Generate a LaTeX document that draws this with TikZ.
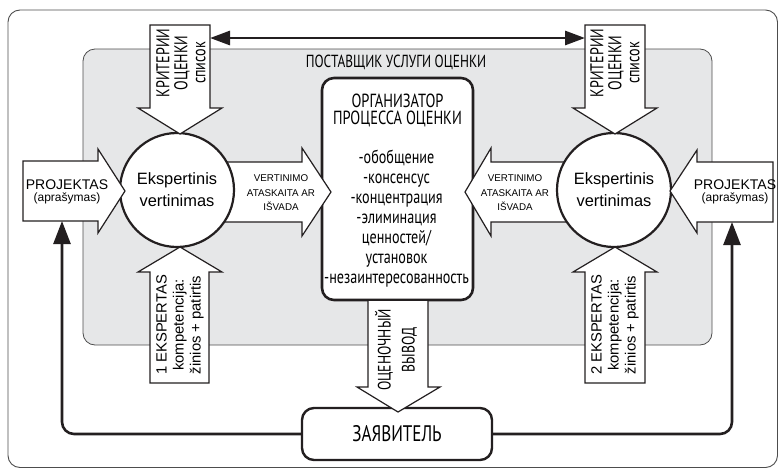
\documentclass[tikz,border=0pt]{standalone}
\usepackage{fontspec}
\setmainfont{Liberation Sans}
\newfontfamily\condfont[FakeStretch=0.76]{PT Sans}
\usetikzlibrary{arrows.meta}

\definecolor{ink}{HTML}{231F20}
\definecolor{panel}{HTML}{E6E7E8}
\definecolor{framegray}{HTML}{4D4D4D}

\tikzset{
  blockarrow/.style={draw=ink, fill=white, line width=1.2pt, line join=miter},
  bubble/.style={circle, draw=ink, fill=white, line width=2.2pt, minimum size=114pt,
    inner sep=0pt, align=center, font={\fontsize{16.4}{22}\selectfont}},
  projtext/.style={align=center, inner sep=0pt},
  reporttext/.style={align=center, inner sep=0pt, font={\fontsize{9.8}{14.5}\selectfont}},
  criteriatext/.style={rotate=90, align=center, inner sep=0pt,
    font={\condfont\fontsize{18.5}{18}\selectfont}},
  experttext/.style={rotate=90, align=center, inner sep=0pt,
    font={\fontsize{14.8}{17}\selectfont}},
  feedback/.style={draw=ink, line width=2.6pt, rounded corners=12pt,
    -{Triangle[length=23pt, width=17pt]}},
}

\begin{document}
\begin{tikzpicture}[x=1pt, y=-1pt]
\useasboundingbox (0,0) rectangle (779,469);

% outer frame
\draw[framegray, line width=0.9pt, rounded corners=12pt] (8,10) rectangle (777.5,467.5);

% service provider panel
\draw[draw=framegray, fill=panel, line width=0.8pt, rounded corners=12pt]
  (83,49) rectangle (712,345);
\node[font={\condfont\fontsize{17.5}{18}\selectfont}, inner sep=0pt] (provider) at (396,62)
  {ПОСТАВЩИК УСЛУГИ ОЦЕНКИ};

% organiser box
\node[draw=ink, fill=white, line width=2.6pt, rounded corners=12pt,
  minimum width=151pt, minimum height=222pt] (org) at (397.5,189) {};
\node[align=center, inner sep=0pt, font={\condfont\fontsize{19}{17.6}\selectfont}]
  (orgtitle) at (397.5,110.5) {ОРГАНИЗАТОР\\ПРОЦЕССА ОЦЕНКИ};
\node[align=center, inner sep=0pt, font={\condfont\fontsize{18.6}{20}\selectfont}]
  (orglist) at (396.5,218.3)
  {-обобщение\\-консенсус\\-концентрация\\-элиминация\\ценностей/\\установок\\-незаинтересованность};

% reports flowing into the organiser
\draw[blockarrow] (200,162) -- (302,162) -- (302,148) -- (331,192) -- (302,236)
  -- (302,222) -- (200,222) -- cycle;
\draw[blockarrow] (590,162) -- (491,162) -- (491,148) -- (465,192) -- (491,236)
  -- (491,222) -- (590,222) -- cycle;
\node[reporttext] (reportL) at (281,193) {VERTINIMO\\ATASKAITA AR\\IŠVADA};
\node[reporttext] (reportR) at (515,193) {VERTINIMO\\ATASKAITA AR\\IŠVADA};

% expert evaluations
\node[bubble] (evalL) at (177,190) {Ekspertinis\\vertinimas};
\node[bubble] (evalR) at (614,190) {Ekspertinis\\vertinimas};

% project descriptions
\draw[blockarrow] (23,161) -- (98,161) -- (98,149) -- (125,191) -- (98,233)
  -- (98,221) -- (23,221) -- cycle;
\draw[blockarrow] (773,162) -- (697,162) -- (697,150) -- (670,191) -- (697,233)
  -- (697,222) -- (773,222) -- cycle;
\node[projtext] (projL) at (67,192)
  {{\fontsize{14}{18}\selectfont PROJEKTAS}\\[-0.5pt]{\fontsize{12}{17}\selectfont (aprašymas)}};
\node[projtext] (projR) at (735,192)
  {{\fontsize{14}{18}\selectfont PROJEKTAS}\\[-0.5pt]{\fontsize{12}{17}\selectfont (aprašymas)}};
\coordinate (projLfoot) at (62,221);
\coordinate (projRfoot) at (732,222);

% evaluation criteria
\draw[blockarrow] (150,25) -- (210,25) -- (210,108) -- (222,108) -- (180,134)
  -- (138,108) -- (150,108) -- cycle;
\draw[blockarrow] (585,25) -- (645,25) -- (645,108) -- (657,108) -- (615,134)
  -- (573,108) -- (585,108) -- cycle;
\node[criteriatext] (critL) at (181,63) {КРИТЕРИИ\\ОЦЕНКИ\\список};
\node[criteriatext] (critR) at (615,63) {КРИТЕРИИ\\ОЦЕНКИ\\список};
\coordinate (critLside) at (210,38);
\coordinate (critRside) at (585,38);
\draw[draw=ink, line width=2.8pt,
  {Triangle[length=20pt, width=14pt]}-{Triangle[length=20pt, width=14pt]}]
  (critLside) -- (critRside);

% expert competences
\draw[blockarrow] (150,383) -- (209,383) -- (209,272) -- (222,272) -- (180,247)
  -- (138,272) -- (150,272) -- cycle;
\draw[blockarrow] (585,383) -- (645,383) -- (645,272) -- (657,272) -- (615,247)
  -- (573,272) -- (585,272) -- cycle;
\node[experttext] (expL) at (180,325) {1 EKSPERTAS\\kompetencija:\\žinios + patirtis};
\node[experttext] (expR) at (615,325) {2 EKSPERTAS\\kompetencija:\\žinios + patirtis};

% applicant
\node[draw=ink, fill=white, line width=2.4pt, rounded corners=12pt,
  minimum width=190pt, minimum height=52pt, inner sep=0pt,
  font={\condfont\fontsize{22.5}{26}\selectfont}] (applicant) at (397,434) {ЗАЯВИТЕЛЬ};

% evaluation conclusion
\draw[blockarrow] (368,301) -- (368,387) -- (357,387) -- (398,412) -- (440,387)
  -- (428,387) -- (428,301);
\node[rotate=90, align=center, inner sep=0pt,
  font={\condfont\fontsize{18}{24}\selectfont}] (conclusion) at (396,350)
  {ОЦЕНОЧНЫЙ\\ВЫВОД};

% feedback to the projects
\draw[feedback] (applicant.west) -| (projLfoot);
\draw[feedback] (applicant.east) -| (projRfoot);
\end{tikzpicture}
\end{document}
